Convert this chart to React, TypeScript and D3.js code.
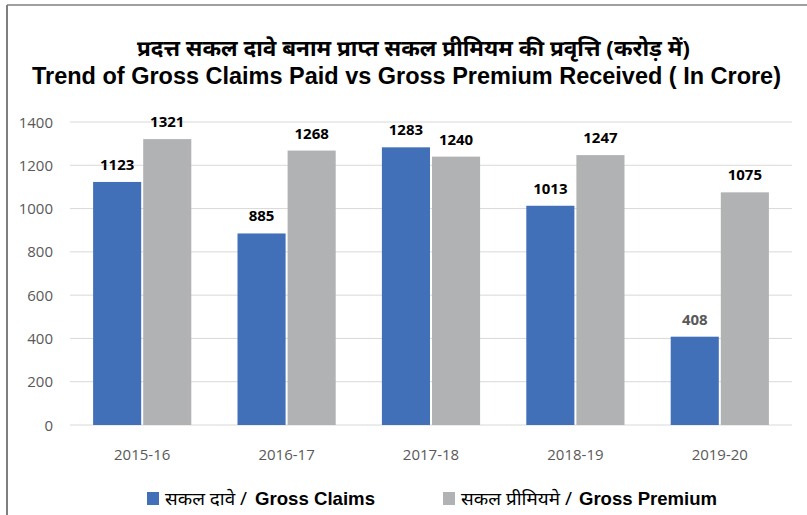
import React from "react";
import * as d3 from "d3";

const categories = ["2015-16", "2016-17", "2017-18", "2018-19", "2019-20"];
const claims = [1123, 885, 1283, 1013, 408];
const premium = [1321, 1268, 1240, 1247, 1075];
const yTicks = [0, 200, 400, 600, 800, 1000, 1200, 1400];
const titleHi = "प्रदत्त सकल दावे बनाम प्राप्त सकल प्रीमियम की प्रवृत्ति (करोड़ में)";
const titleEn = "Trend of Gross Claims Paid vs Gross Premium Received ( In Crore)";
const legendHi = ["सकल दावे / ", "सकल प्रीमियमे / "];
const legendEn = ["Gross Claims", "Gross Premium"];
const colors = ["#4170B8", "#B1B2B4"];

export default function App() {
  const W = 807, H = 515;
  const left = 70, right = 792, top = 122, bottom = 425;
  const x = d3.scaleBand<string>().domain(categories).range([left, right]).paddingInner(0.32).paddingOuter(0.16);
  const y = d3.scaleLinear().domain([0, 1400]).range([bottom, top]);
  const bw = x.bandwidth();
  const gap = 2;
  const barW = (bw - gap) / 2;
  const series = [claims, premium];
  const tickFont = "'Open Sans', 'Liberation Sans', sans-serif";
  const legend = [
    { sq: 147, hi: 165, hiW: 82, en: 255, enW: 120 },
    { sq: 443, hi: 461, hiW: 111, en: 579, enW: 138 },
  ];
  return (
    <svg width={W} height={H} style={{ position: "fixed", left: 0, top: 0, background: "#fff" }}>
      <rect x={0} y={0} width={W} height={H} fill="#fff" />
      <line x1={7} y1={5} x2={W} y2={5} stroke="#7f7f7f" strokeWidth={1.5} />
      <line x1={7} y1={5} x2={7} y2={H} stroke="#7f7f7f" strokeWidth={2} />
      <text x={137} y={56} textLength={553} lengthAdjust="spacingAndGlyphs" fontFamily="'Noto Sans', 'Liberation Sans', sans-serif" fontWeight="bold" fontSize={22} fill="#000">{titleHi}</text>
      <text x={32} y={84} textLength={749} lengthAdjust="spacingAndGlyphs" fontFamily="'Liberation Sans', Arial, sans-serif" fontWeight="bold" fontSize={23.5} fill="#000">{titleEn}</text>
      {yTicks.map(t => (
        <g key={t}>
          <line x1={left} x2={right} y1={y(t)} y2={y(t)} stroke="#D9D9D9" strokeWidth={1} />
          <text x={53} y={y(t) + 5.5} textAnchor="end" fontFamily={tickFont} fontSize={15} fill="#595959">{t}</text>
        </g>
      ))}
      {categories.map((c, i) => (
        <g key={c}>
          {series.map((s, j) => {
            const bx = (x(c) as number) + j * (barW + gap);
            return (
              <g key={j}>
                <rect x={bx} y={y(s[i])} width={barW} height={bottom - y(s[i])} fill={colors[j]} />
                <text x={bx + barW / 2} y={y(s[i]) - 12} textAnchor="middle" fontFamily={tickFont} fontWeight="bold" fontSize={15} fill={s[i] < 500 ? "#595959" : "#000"}>{s[i]}</text>
              </g>
            );
          })}
          <text x={(x(c) as number) + bw / 2} y={460} textAnchor="middle" fontFamily={tickFont} fontSize={15} fill="#595959">{c}</text>
        </g>
      ))}
      {legend.map((l, k) => (
        <g key={k}>
          <rect x={l.sq} y={492} width={12} height={13} fill={colors[k]} />
          <text x={l.hi} y={505} textLength={l.hiW} lengthAdjust="spacingAndGlyphs" fontFamily="'Noto Sans', 'Liberation Sans', sans-serif" fontSize={18} fill="#000">{legendHi[k]}</text>
          <text x={l.en} y={505} textLength={l.enW} lengthAdjust="spacingAndGlyphs" fontFamily="'Liberation Sans', Arial, sans-serif" fontWeight="bold" fontSize={19} fill="#000">{legendEn[k]}</text>
        </g>
      ))}
    </svg>
  );
}
